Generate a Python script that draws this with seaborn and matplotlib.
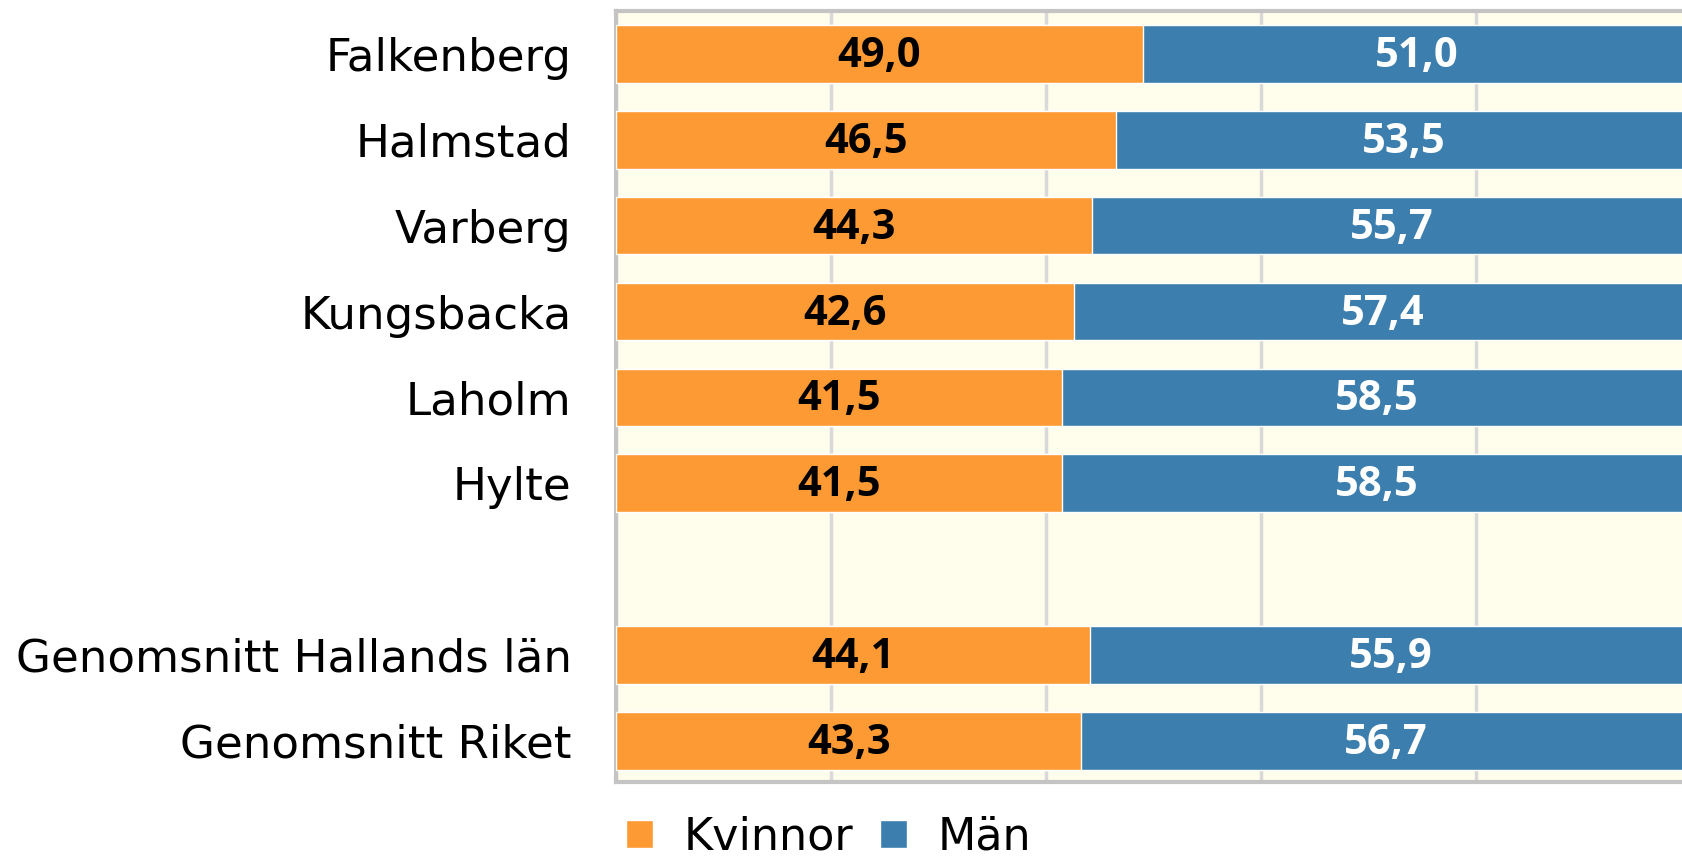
import pandas as pd
import matplotlib.pyplot as plt
import seaborn as sns
from matplotlib.patches import Patch

# data
kommuner = ['Falkenberg', 'Halmstad', 'Varberg', 'Kungsbacka', 'Laholm', 'Hylte',
            '', 'Genomsnitt Hallands län', 'Genomsnitt Riket']
kvinnor = [49.0, 46.5, 44.3, 42.6, 41.5, 41.5, None, 44.1, 43.3]
man = [51.0, 53.5, 55.7, 57.4, 58.5, 58.5, None, 55.9, 56.7]

ORANGE = '#FD9A33'
BLUE = '#3C7EAD'

df = pd.DataFrame({'kommun': kommuner, 'Kvinnor': kvinnor, 'Män': man})
df['total'] = df['Kvinnor'] + df['Män']

sns.set_style("white")
plt.rcParams['font.family'] = ['DejaVu Sans']

fig = plt.figure(figsize=(16.83, 8.58), dpi=100)
# axes runs slightly past the right edge, as in the original (clipped at 100%)
ax = fig.add_axes([616 / 1683, 76 / 858, 1075 / 1683, 771 / 858])
ax.set_facecolor('#FFFDEB')

# stacked: total (blue) underneath, women (orange) on top
sns.barplot(data=df, y='kommun', x='total', order=kommuner, color=BLUE,
            saturation=1, width=0.67, orient='h', ax=ax, zorder=2)
sns.barplot(data=df, y='kommun', x='Kvinnor', order=kommuner, color=ORANGE,
            saturation=1, width=0.67, orient='h', ax=ax, zorder=3)

for i, row in df.iterrows():
    if pd.isna(row['Kvinnor']):
        continue
    k, m = row['Kvinnor'], row['Män']
    ax.text(k / 2, i + 0.03, f"{k:.1f}".replace('.', ','), ha='center', va='center',
            fontsize=30, fontweight='bold', color='#000000',
            family='Open Sans', zorder=4)
    ax.text(k + m / 2, i + 0.03, f"{m:.1f}".replace('.', ','), ha='center', va='center',
            fontsize=30, fontweight='bold', color='white',
            family='Open Sans', zorder=4)

ax.set_xlim(0, 100)
ax.set_ylim(8.48, -0.5)
ax.set_xticks([0, 20, 40, 60, 80, 100])
ax.set_xticklabels([])
ax.grid(axis='x', color='#D9D9D9', linewidth=2.5, zorder=1)
ax.set_axisbelow(True)
ax.set_xlabel('')
ax.set_ylabel('')
ax.tick_params(axis='y', length=0, pad=32, labelsize=32.5, labelcolor='#000000')
ax.tick_params(axis='x', length=0)
for side in ['left', 'top', 'bottom']:
    ax.spines[side].set_color('#C4C4C4')
    ax.spines[side].set_linewidth(3)
ax.spines['right'].set_visible(False)

handles = [Patch(facecolor=ORANGE, label='Kvinnor'), Patch(facecolor=BLUE, label='Män')]
fig.legend(handles=handles, loc='center left', bbox_to_anchor=(0.372, 0.024),
           ncol=2, frameon=False, fontsize=32, handlelength=0.6, handleheight=0.6,
           handletextpad=0.7, columnspacing=0.6, borderaxespad=0, borderpad=0,
           labelcolor='#000000')

plt.savefig('out.png', dpi=100)
